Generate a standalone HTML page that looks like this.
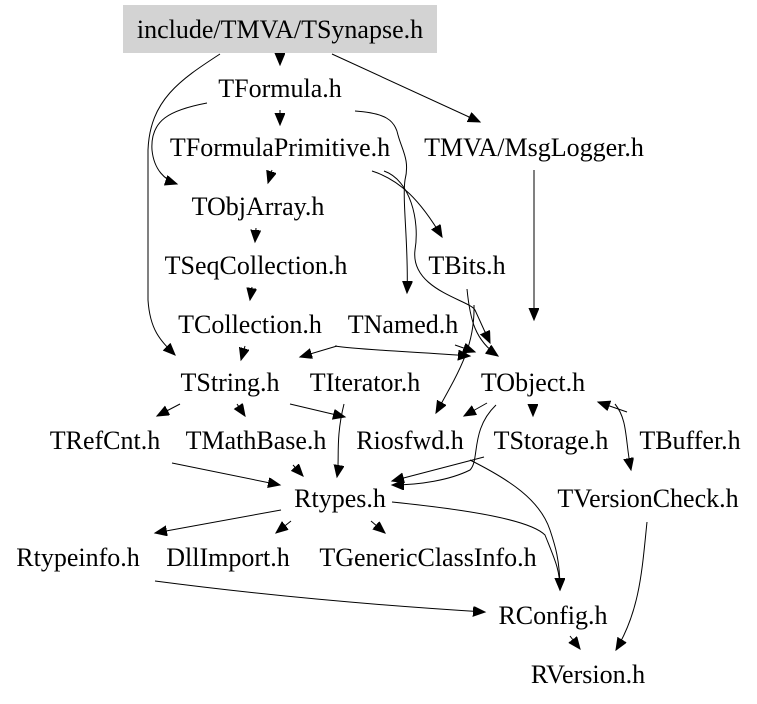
<!DOCTYPE html>
<html><head><meta charset="utf-8"><style>
html,body{margin:0;padding:0;background:#fff;}
svg{display:block;}
text{font-family:"Liberation Serif",serif;font-size:26px;fill:#000;text-anchor:middle;}
path{fill:none;stroke:#000;stroke-width:1;}
</style></head><body>
<svg width="757" height="704" viewBox="0 0 757 704" xmlns="http://www.w3.org/2000/svg">
<defs>
<marker id="a" markerUnits="userSpaceOnUse" markerWidth="14" markerHeight="12" refX="12" refY="5" orient="auto">
<path d="M0,0 L12,5 L0,10 Z" style="fill:#000;stroke:#000"/>
</marker>
</defs>
<rect x="123" y="5" width="314" height="48" fill="#d3d3d3"/>
<text x="280" y="38">include/TMVA/TSynapse.h</text>
<text x="280" y="97">TFormula.h</text>
<text x="280" y="156">TFormulaPrimitive.h</text>
<text x="534" y="156">TMVA/MsgLogger.h</text>
<text x="258" y="215">TObjArray.h</text>
<text x="256" y="274">TSeqCollection.h</text>
<text x="467" y="274">TBits.h</text>
<text x="250" y="333">TCollection.h</text>
<text x="403" y="333">TNamed.h</text>
<text x="230" y="391">TString.h</text>
<text x="365" y="391">TIterator.h</text>
<text x="533" y="391">TObject.h</text>
<text x="105" y="449">TRefCnt.h</text>
<text x="256" y="449">TMathBase.h</text>
<text x="410" y="449">Riosfwd.h</text>
<text x="551" y="449">TStorage.h</text>
<text x="690" y="449">TBuffer.h</text>
<text x="340" y="507">Rtypes.h</text>
<text x="648" y="507">TVersionCheck.h</text>
<text x="78" y="566">Rtypeinfo.h</text>
<text x="228" y="566">DllImport.h</text>
<text x="428" y="566">TGenericClassInfo.h</text>
<text x="553" y="624">RConfig.h</text>
<text x="588" y="683">RVersion.h</text>

<path marker-end="url(#a)" d="M280,54 L280,65"/>
<path marker-end="url(#a)" d="M220,54 C180,80 150,100 148,150 L148,300 C150,330 160,340 175,355"/>
<path marker-end="url(#a)" d="M332,54 L480,122"/>
<path marker-end="url(#a)" d="M280,110 L280,125"/>
<path marker-end="url(#a)" d="M207,103 C170,110 150,120 152,150 C154,170 165,180 177,184"/>
<path marker-end="url(#a)" d="M355,111 C385,113 395,120 398,135 C402,150 410,160 405,180 C402,200 409,250 407,293"/>
<path marker-end="url(#a)" d="M272,170 L268,183"/>
<path marker-end="url(#a)" d="M372,171 C400,180 420,200 442,237"/>
<path marker-end="url(#a)" d="M384,171 C410,180 420,220 415,250 C410,290 470,300 475,310 L490,343"/>
<path marker-end="url(#a)" d="M256,228 L255,242"/>
<path marker-end="url(#a)" d="M252,287 L250,300"/>
<path marker-end="url(#a)" d="M245,346 L241,360"/>
<path marker-end="url(#a)" d="M337,346 L300,357"/>
<path marker-end="url(#a)" d="M335,346 C360,350 420,352 470,356"/>
<path marker-end="url(#a)" d="M455,345 L475,352"/>
<path marker-end="url(#a)" d="M534,170 L534,320"/>
<path marker-end="url(#a)" d="M467,289 C470,320 475,340 498,356"/>
<path marker-end="url(#a)" d="M474,305 C475,345 460,370 436,413"/>
<path marker-end="url(#a)" d="M180,404 L157,416"/>
<path marker-end="url(#a)" d="M237,404 L245,416"/>
<path marker-end="url(#a)" d="M290,404 L345,417"/>
<path marker-end="url(#a)" d="M344,404 C335,440 340,460 337,477"/>
<path marker-end="url(#a)" d="M487,403 L464,416"/>
<path marker-end="url(#a)" d="M496,405 C470,430 480,460 470,470 C450,480 420,485 392,485"/>
<path marker-end="url(#a)" d="M533,404 L533,416"/>
<path marker-end="url(#a)" d="M627,412 L598,402"/>
<path marker-end="url(#a)" d="M615,404 C628,420 625,440 631,470"/>
<path marker-end="url(#a)" d="M484,457 L392,481"/>
<path marker-end="url(#a)" d="M470,460 C510,480 540,500 550,530 C555,545 560,560 560,590"/>
<path marker-end="url(#a)" d="M172,463 L280,485"/>
<path marker-end="url(#a)" d="M293,465 L303,476"/>
<path marker-end="url(#a)" d="M281,510 L155,533"/>
<path marker-end="url(#a)" d="M291,521 L276,533"/>
<path marker-end="url(#a)" d="M371,521 L385,533"/>
<path marker-end="url(#a)" d="M392,502 C470,510 530,520 545,535 C555,560 560,570 560,590"/>
<path marker-end="url(#a)" d="M155,581 C300,600 420,608 485,612"/>
<path marker-end="url(#a)" d="M570,636 L580,649"/>
<path marker-end="url(#a)" d="M647,522 C642,570 640,610 616,650"/>
</svg>
</body></html>
